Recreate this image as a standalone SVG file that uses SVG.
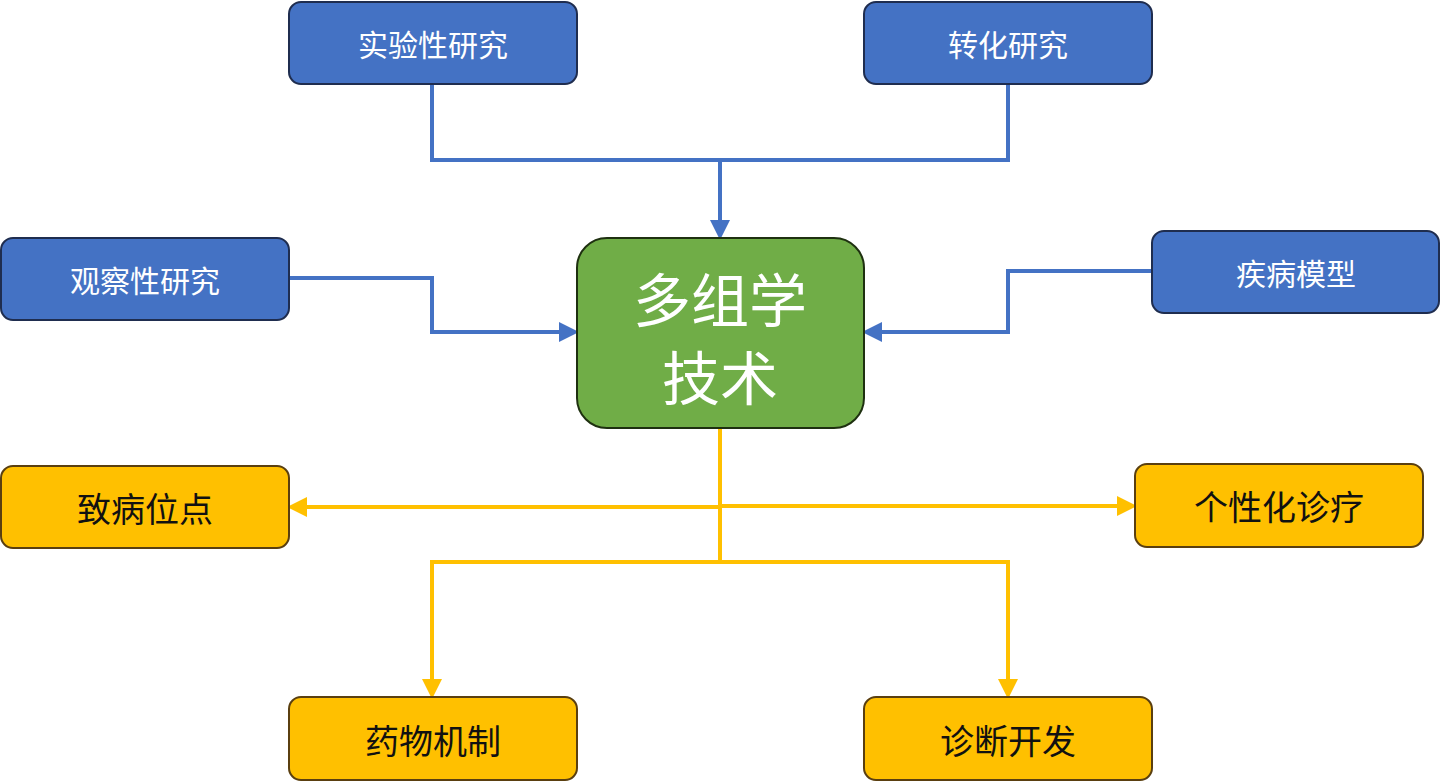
<svg xmlns="http://www.w3.org/2000/svg" width="1440" height="782" viewBox="0 0 1440 782">
<style>
.b{fill:#4472C4;stroke:#1F2D4F;stroke-width:2}
.y{fill:#FFC000;stroke:#5A3F10;stroke-width:2}
.g{fill:#70AD47;stroke:#1E3010;stroke-width:2}
text{font-family:"Noto Sans CJK SC",sans-serif;text-anchor:middle;dominant-baseline:central}
.tw{fill:#fff;font-size:30px}
.ty{fill:#111;font-size:34px}
.bl{fill:none;stroke:#4472C4;stroke-width:4}
.yl{fill:none;stroke:#FFC000;stroke-width:4}
</style>
<defs>
<marker id="ab" markerWidth="5" markerHeight="5" refX="4" refY="2.5" orient="auto" markerUnits="strokeWidth"><path d="M0,0L5,2.5L0,5z" fill="#4472C4"/></marker>
<marker id="ay" markerWidth="5" markerHeight="5" refX="4" refY="2.5" orient="auto" markerUnits="strokeWidth"><path d="M0,0L5,2.5L0,5z" fill="#FFC000"/></marker>
</defs>
<g id="connectors">
<path class="bl" d="M432,84V160H1008V84"/>
<path class="bl" d="M720,160V236" marker-end="url(#ab)"/>
<path class="bl" d="M289,278H432V332H575" marker-end="url(#ab)"/>
<path class="bl" d="M1152,271H1008V332H866" marker-end="url(#ab)"/>
<path class="yl" d="M720,428V562"/>
<path class="yl" d="M720,507H291" marker-end="url(#ay)"/>
<path class="yl" d="M720,506H1133" marker-end="url(#ay)"/>
<path class="yl" d="M720,562H1008V695" marker-end="url(#ay)"/>
<path class="yl" d="M720,562H432V695" marker-end="url(#ay)"/>
</g>
<g id="n1"><rect class="b" x="289" y="2" width="288" height="82" rx="12"/><text class="tw" x="433" y="43">实验性研究</text></g>
<g id="n2"><rect class="b" x="864" y="2" width="288" height="82" rx="12"/><text class="tw" x="1008" y="43">转化研究</text></g>
<g id="n3"><rect class="b" x="1" y="238" width="288" height="82" rx="12"/><text class="tw" x="145" y="279">观察性研究</text></g>
<g id="n4"><rect class="b" x="1152" y="231" width="287" height="82" rx="12"/><text class="tw" x="1296" y="272">疾病模型</text></g>
<g id="center"><rect class="g" x="577" y="238" width="287" height="190" rx="30"/><text class="tw" style="font-size:58px" x="720" y="297">多组学</text><text class="tw" style="font-size:58px" x="720" y="375">技术</text></g>
<g id="n5"><rect class="y" x="1" y="466" width="288" height="82" rx="12"/><text class="ty" x="145" y="507">致病位点</text></g>
<g id="n6"><rect class="y" x="1135" y="464" width="288" height="83" rx="12"/><text class="ty" x="1279" y="505">个性化诊疗</text></g>
<g id="n7"><rect class="y" x="289" y="697" width="288" height="83" rx="12"/><text class="ty" x="433" y="739">药物机制</text></g>
<g id="n8"><rect class="y" x="864" y="697" width="288" height="83" rx="12"/><text class="ty" x="1008" y="739">诊断开发</text></g>
</svg>
